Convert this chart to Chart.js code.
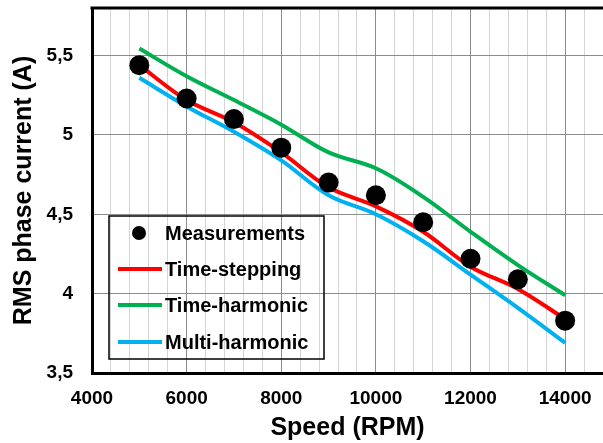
<!DOCTYPE html>
<html>
<head>
<meta charset="utf-8">
<script src="https://cdn.jsdelivr.net/npm/chart.js@4.4.0/dist/chart.umd.min.js"></script>
<style>
  html, body { margin: 0; padding: 0; background: #fff; overflow: hidden; }
</style>
</head>
<body>
<canvas id="c" width="603" height="443"></canvas>
<script>
/* global Chart */

const speeds = [5000, 6000, 7000, 8000, 9000, 10000, 11000, 12000, 13000, 14000];
const measurements = [5.44, 5.23, 5.10, 4.92, 4.70, 4.62, 4.45, 4.22, 4.09, 3.83];
const timeStepping = [5.44, 5.22, 5.08, 4.89, 4.67, 4.55, 4.39, 4.17, 4.03, 3.84];
const timeHarmonic = [5.545, 5.37, 5.22, 5.065, 4.89, 4.79, 4.61, 4.39, 4.18, 3.99];
const multiHarmonic = [5.36, 5.18, 5.02, 4.84, 4.62, 4.50, 4.33, 4.12, 3.91, 3.69];

const FONT = "'Liberation Sans', Arial, sans-serif";

function pairs(vals) {
  return speeds.map((s, i) => ({ x: s, y: vals[i] }));
}

function lineSet(label, vals, color) {
  return {
    label,
    data: pairs(vals),
    borderColor: color,
    backgroundColor: color,
    borderWidth: 4,
    pointRadius: 0,
    tension: 0.35,
    fill: false,
    order: 1
  };
}

function noPad(s) {
  s.paddingLeft = 0;
  s.paddingRight = 0;
  s.paddingTop = 0;
  s.paddingBottom = 0;
}

// frame on top edge (left/bottom come from axis borders) + legend box inside the plot
const framePlugin = {
  id: 'frame',
  afterDraw(chart) {
    const ctx = chart.ctx;
    const ca = chart.chartArea;
    ctx.save();
    ctx.strokeStyle = '#000';
    ctx.lineWidth = 3;
    ctx.beginPath();
    ctx.moveTo(ca.left - 1.5, ca.top);
    ctx.lineTo(ca.right + 2, ca.top);
    ctx.stroke();

    // legend
    const bx = ca.left + 17;
    const by = ca.top + 208;
    const bw = 215;
    const bh = 143;
    ctx.lineWidth = 1.5;
    ctx.strokeRect(bx, by, bw, bh);
    ctx.font = 'bold 20px ' + FONT;
    ctx.textBaseline = 'middle';
    ctx.textAlign = 'left';
    const rows = [17, 53, 89, 126];
    chart.data.datasets.forEach((ds, i) => {
      const y = by + rows[i];
      if (ds.showLine === false) {
        ctx.fillStyle = '#000';
        ctx.beginPath();
        ctx.arc(bx + 30, y, 7, 0, Math.PI * 2);
        ctx.fill();
      } else {
        ctx.strokeStyle = ds.borderColor;
        ctx.lineWidth = 4;
        ctx.beginPath();
        ctx.moveTo(bx + 9, y);
        ctx.lineTo(bx + 53, y);
        ctx.stroke();
      }
      ctx.fillStyle = '#000';
      ctx.fillText(ds.label, bx + 56, y + 1);
    });
    ctx.restore();
  }
};

new Chart(document.getElementById('c').getContext('2d'), {
  type: 'line',
  data: {
    datasets: [
      {
        label: 'Measurements',
        data: pairs(measurements),
        showLine: false,
        pointRadius: 10,
        pointBackgroundColor: '#000',
        pointBorderWidth: 0,
        borderColor: '#000',
        order: 0
      },
      lineSet('Time-stepping', timeStepping, '#ff0000'),
      lineSet('Time-harmonic', timeHarmonic, '#00b050'),
      lineSet('Multi-harmonic', multiHarmonic, '#00b0f0')
    ]
  },
  options: {
    responsive: false,
    animation: false,
    layout: { autoPadding: false, padding: { top: 8, right: 0, left: 0, bottom: 0 } },
    scales: {
      x: {
        type: 'linear',
        min: 4000,
        max: 14800,
        afterFit: (s) => { s.height = 70; noPad(s); },
        ticks: {
          stepSize: 400,
          autoSkip: false,
          maxRotation: 0,
          padding: 14,
          color: '#000',
          font: { family: FONT, size: 19, weight: 'bold' },
          callback: (v) => (v % 2000 === 0 ? String(v) : '')
        },
        grid: {
          drawTicks: false,
          color: (c) => (c.tick && c.tick.value % 2000 === 0 ? '#8c8c8c' : '#d4d4d4')
        },
        border: { color: '#000', width: 3 },
        title: {
          display: true,
          text: 'Speed (RPM)',
          color: '#000',
          font: { family: FONT, size: 25, weight: 'bold' },
          padding: { top: 0, bottom: 0 }
        }
      },
      y: {
        min: 3.5,
        max: 5.8,
        afterFit: (s) => { s.width = 92; noPad(s); },
        ticks: {
          stepSize: 0.5,
          padding: 19,
          color: '#000',
          font: { family: FONT, size: 19, weight: 'bold' },
          callback: (v) => {
            const twice = v * 2;
            if (Math.abs(twice - Math.round(twice)) > 1e-6) return '';
            return String(Math.round(twice) / 2).replace('.', ',');
          }
        },
        grid: { drawTicks: false, color: '#8c8c8c' },
        border: { color: '#000', width: 3 },
        title: {
          display: true,
          text: 'RMS phase current (A)',
          color: '#000',
          font: { family: FONT, size: 25, weight: 'bold' },
          padding: { top: 9, bottom: 0 }
        }
      }
    },
    plugins: {
      legend: { display: false },
      tooltip: { enabled: false }
    }
  },
  plugins: [framePlugin]
});
</script>
</body>
</html>
